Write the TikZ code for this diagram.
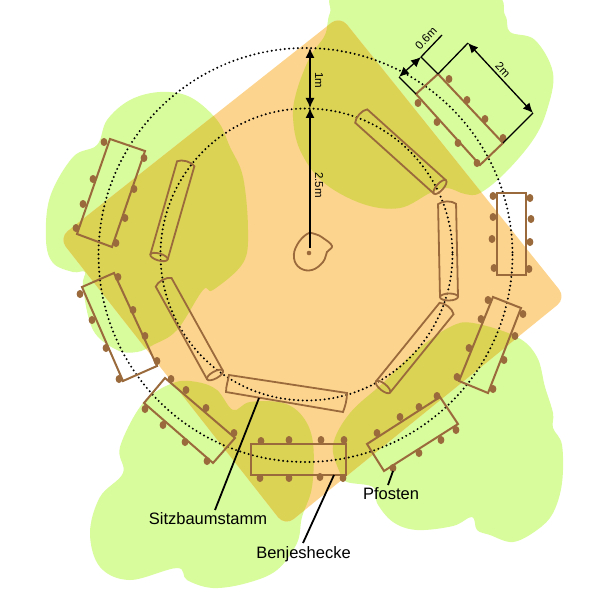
\documentclass[tikz,border=0pt]{standalone}
\usepackage{fontspec}
\setmainfont{Liberation Sans}
\usetikzlibrary{arrows.meta}
\definecolor{leaf}{HTML}{D8FB9C}
\definecolor{sand}{HTML}{FDD48E}
\definecolor{olive}{HTML}{DAD354}
\definecolor{bark}{HTML}{9B6A3C}
\tikzset{
	hedgebox/.style={draw=bark, line width=2pt, line join=miter},
	post/.style={fill=bark, draw=none},
	logstem/.style={draw=bark, line width=1.8pt},
	ring/.style={draw=black, line width=2.2pt, line cap=round, dash pattern=on 0pt off 4.4pt},
	measure/.style={draw=black, line width=1.3pt},
	dimarrow/.style={draw=black, line width=1.3pt, {Latex[length=10pt,width=9pt]}-{Latex[length=10pt,width=9pt]}},
	leader/.style={draw=black, line width=1.8pt},
	biglabel/.style={font=\fontsize{16.5}{20}\selectfont},
	smalllabel/.style={font=\fontsize{11.5}{14}\selectfont}
}
\def\greenblobs{
	plot[smooth cycle, tension=0.6] coordinates {(345,-8) (485,-8) (505,15) (510,32) (535,40) (553,73) (547,110) (533,140) (505,173) (480,193) (465,194) (447,188) (430,193) (400,208) (363,204) (323,182) (300,150) (293,117) (297,90) (310,57) (325,35) (330,13)}
	plot[smooth cycle, tension=0.6] coordinates {(160,92) (130,100) (107,120) (97,145) (73,157) (50,197) (46,240) (53,263) (73,272) (85,272) (83,287) (93,330) (117,350) (137,352) (153,345) (177,330) (203,290) (213,290) (243,263) (248,230) (243,177) (230,147) (217,120) (190,97)}
	plot[smooth cycle, tension=0.6] coordinates {(173,383) (143,403) (120,447) (123,473) (100,497) (90,533) (100,567) (130,580) (177,568) (187,580) (213,588) (247,583) (277,570) (297,543) (302,517) (312,487) (313,443) (303,417) (283,403) (250,402) (233,410) (217,390) (197,382)}
	plot[smooth cycle, tension=0.6] coordinates {(473,323) (450,327) (417,350) (383,383) (350,413) (333,445) (340,473) (347,482) (373,487) (377,503) (393,522) (417,530) (453,526) (472,517) (477,530) (490,535) (513,542) (537,530) (553,513) (562,483) (562,445) (553,428) (553,413) (545,387) (537,357) (517,337)}
}
\def\diamondpath{
	[rounded corners=11pt] (340,16) -- (566,298) -- (285,526) -- (59,238) -- cycle
}
\def\logbody#1#2#3#4{% base x, base y, angle, length
	\begin{scope}[shift={(#1,#2)},rotate=#3]
		\draw[logstem] (0,9) -- (#4,9) .. controls (#4+3.5,5) and (#4+3.5,-5) .. (#4,-9) -- (0,-9);
		\draw[logstem] (0,0) ellipse (3.5 and 9);
	\end{scope}
}
\def\hedgeposts#1{
	\foreach \px/\py in {#1}{
		\fill[post] (\px,\py) ellipse (3.4 and 4);
	}
}
\begin{document}
\begin{tikzpicture}[x=1pt,y=-1pt]
	\useasboundingbox (0,0) rectangle (613,599);

	% ground
	\fill[leaf] \greenblobs;
	\fill[sand] \diamondpath;
	\begin{scope}
		\clip \diamondpath;
		\fill[olive] \greenblobs;
	\end{scope}

	% rings
	\draw[ring] (305.5,255) circle (207);
	\draw[ring] (306.5,254.5) circle (146);

	% hedges
	\draw[hedgebox] (438,74) -- (503,143) -- (480,165) -- (416,94) -- cycle;
	\hedgeposts{449/79,467/100,485/119,503/138,418/103,437/122,458/143,477/163}
	\draw[hedgebox] (497,193) rectangle (526,275);
	\hedgeposts{493/196,493/217,492/239,494/268,530/198,531/219,530/242,529/269}
	\draw[hedgebox] (493,297) -- (521,308) -- (488,393) -- (459,381) -- cycle;
	\hedgeposts{488/300,481/319,469/348,457/377,523/314,515/336,504/360,493/389}
	\draw[hedgebox] (440,397) -- (458,424) -- (384,471) -- (367,444) -- cycle;
	\hedgeposts{437/396,419/407,400/417,377/433,456/430,441/440,419/453,393/468}
	\draw[hedgebox] (251,444) rectangle (346,475);
	\hedgeposts{261/441,289/440,321/440,344/440,260/478,289/478,320/477,343/478}
	\draw[hedgebox] (165,378) -- (235,438) -- (213,463) -- (144,403) -- cycle;
	\hedgeposts{171/379,186/390,206/408,234/433,145/409,163/425,185/442,207/461}
	\draw[hedgebox] (114,273) -- (157,366) -- (123,381) -- (82,287) -- cycle;
	\hedgeposts{118/277,133/310,145/336,157/361,80/294,92/320,106/348,119/379}
	\draw[hedgebox] (110,139) -- (145,151) -- (112,247) -- (77,234) -- cycle;
	\hedgeposts{104/142,93/179,83/204,76/228,144/158,134/189,125/218,116/243}

	% logs
	\logbody{440}{187}{138}{106}
	\logbody{449}{297}{91.2}{93}
	\logbody{383}{387}{51}{101}
	\logbody{215}{375}{119}{106}
	\logbody{159}{257}{74}{97}
	\draw[logstem] (229,375) -- (347,393) .. controls (347,400) and (345,407) .. (343,412) -- (226,392) .. controls (226,386) and (228,381) .. (229,375) -- cycle;

	% stump
	\draw[logstem] plot[smooth cycle, tension=0.7] coordinates {(307,234) (315,234) (323,238) (332,246) (327,252) (323,262) (312,270) (300,268) (294,258) (297,245)};
	\fill[post] (309,253) circle (2.3);

	% dimensions
	\coordinate (ringtop) at (310,48);
	\coordinate (ringmid) at (310,108);
	\coordinate (centre) at (310,248);
	\coordinate (gaugeA) at (399,77);
	\coordinate (gaugeB) at (421,57);
	\coordinate (gaugeC) at (468,43);
	\coordinate (gaugeD) at (533,113);
	\draw[dimarrow] (ringtop) -- (ringmid);
	\draw[measure, -{Latex[length=10pt,width=9pt]}] (centre) -- (ringmid);
	\draw[dimarrow] (gaugeA) -- (gaugeB);
	\draw[dimarrow] (gaugeC) -- (gaugeD);
	\draw[measure] (gaugeA) -- (416,94);
	\draw[measure] (gaugeB) -- (438,74);
	\draw[measure] (gaugeB) -- (442,35);
	\draw[measure] (438,74) -- (gaugeC);
	\draw[measure] (503,143) -- (gaugeD);
	\node[smalllabel, rotate=-90] (labelone) at (319,80) {1m};
	\node[smalllabel, rotate=-90] (labeltwofive) at (319,185) {2.5m};
	\node[smalllabel, rotate=47] (labelnull) at (426,38) {0.6m};
	\node[smalllabel, rotate=-47] (labeltwo) at (503,70) {2m};

	% labels
	\node[biglabel] (sitz) at (208,519) {Sitzbaumstamm};
	\node[biglabel] (benjes) at (303.5,554) {Benjeshecke};
	\node[biglabel] (pfosten) at (391,494) {Pfosten};
	\coordinate (sitzend) at (259,398);
	\coordinate (benjesend) at (334,475);
	\coordinate (pfostenend) at (393,471);
	\coordinate (sitzfoot) at (215,510);
	\coordinate (benjesfoot) at (303,543);
	\coordinate (pfostenfoot) at (388,485);
	\draw[leader] (sitzfoot) -- (sitzend);
	\draw[leader] (benjesfoot) -- (benjesend);
	\draw[leader] (pfostenfoot) -- (pfostenend);
\end{tikzpicture}
\end{document}
